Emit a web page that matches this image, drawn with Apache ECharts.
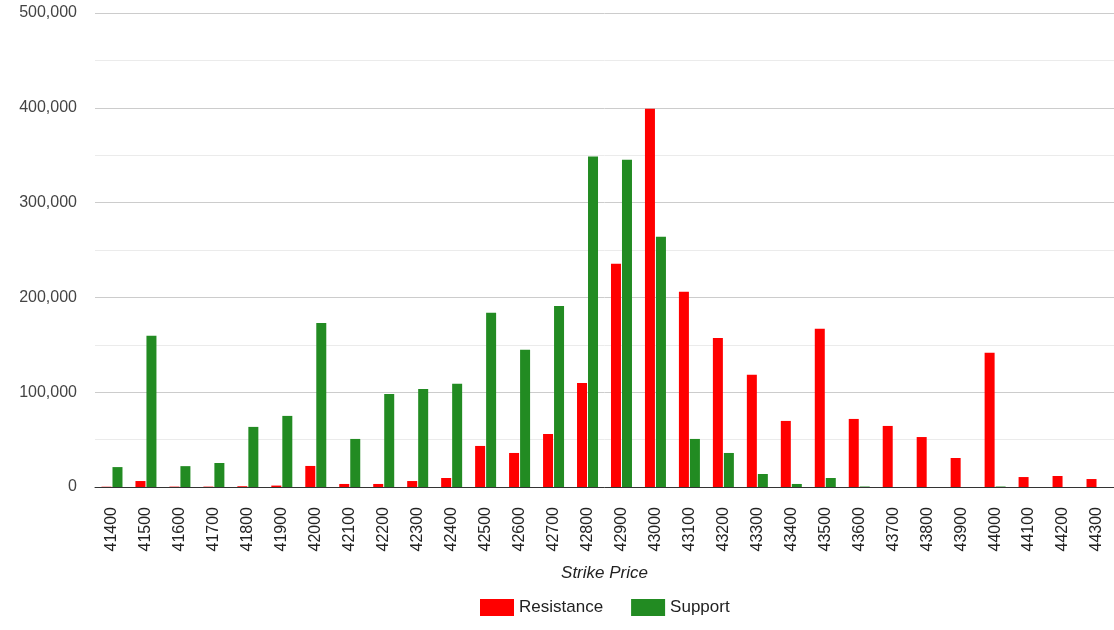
<!DOCTYPE html>
<html>
<head>
<meta charset="utf-8">
<script src="https://cdn.jsdelivr.net/npm/echarts@6/dist/echarts.min.js"></script>
<style>html,body{margin:0;padding:0;background:#fff}#c{width:1114px;height:630px}</style>
</head>
<body>
<div id="c"></div>
<script>
const strikes = ['41400','41500','41600','41700','41800','41900','42000','42100','42200','42300','42400','42500','42600','42700','42800','42900','43000','43100','43200','43300','43400','43500','43600','43700','43800','43900','44000','44100','44200','44300'];
const resistance = [300,6300,400,400,800,1500,22200,3200,3200,6300,9500,43300,35900,55900,109800,235500,399000,206000,157300,118300,69700,166800,71800,64400,52700,30600,141500,10500,11600,8400];
const support = [21000,159500,22000,25300,63400,75000,173000,50700,98200,103500,108800,183700,144700,191000,348500,345300,264000,50700,35900,13700,3200,9500,500,0,0,0,500,0,0,0];
const yTicks = {min:0, max:500000, interval:100000};

const chart = echarts.init(document.getElementById('c'));
chart.setOption({
  animation:false,
  textStyle:{fontFamily:'Liberation Sans, Arial, sans-serif'},
  grid:{left:95, right:-4, top:13, bottom:143, containLabel:false},
  legend:{
    top:599, left:480, padding:0, itemWidth:34, itemHeight:17, itemGap:28,
    icon:'rect',
    textStyle:{fontSize:17, color:'#222'},
    data:['Resistance','Support']
  },
  xAxis:{
    type:'category', data:strikes,
    name:'Strike Price', nameLocation:'middle', nameGap:78,
    nameTextStyle:{fontSize:17, fontStyle:'italic', color:'#222'},
    axisLine:{lineStyle:{color:'#333'}},
    axisTick:{show:false},
    axisLabel:{rotate:90, fontSize:16, color:'#222', margin:20, interval:0}
  },
  yAxis:{
    type:'value', min:yTicks.min, max:yTicks.max, interval:yTicks.interval,
    axisLine:{show:false}, axisTick:{show:false},
    axisLabel:{fontSize:16, color:'#444', margin:18,
      formatter:v=>v.toLocaleString('en-US')},
    splitLine:{lineStyle:{color:'#ccc'}},
    minorTick:{show:false, splitNumber:2},
    minorSplitLine:{show:true, lineStyle:{color:'#ebebeb'}}
  },
  series:[
    {name:'Resistance', type:'bar', data:resistance, barWidth:10, barGap:'10%', itemStyle:{color:'#ff0000'}},
    {name:'Support', type:'bar', data:support, barWidth:10, barGap:'10%', itemStyle:{color:'#228b22'}}
  ]
});
</script>
</body>
</html>
